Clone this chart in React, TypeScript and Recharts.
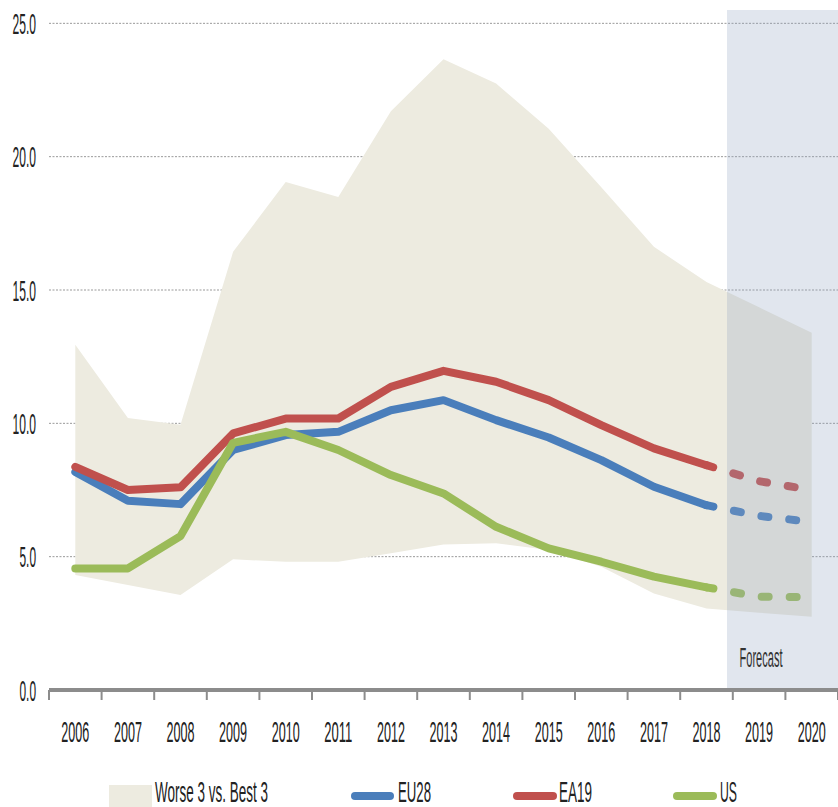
import React from 'react';
import {
  ComposedChart, Area, Line, XAxis, YAxis, CartesianGrid, ReferenceArea, Legend
} from 'recharts';

// values
const years = [2006, 2007, 2008, 2009, 2010, 2011, 2012, 2013, 2014, 2015, 2016, 2017, 2018, 2019, 2020];
const worse3 = [12.95, 10.2, 9.95, 16.43, 19.05, 18.49, 21.7, 23.65, 22.74, 21.05, 18.85, 16.62, 15.3, 14.35, 13.4];
const best3 = [4.31, 3.94, 3.56, 4.9, 4.81, 4.81, 5.13, 5.46, 5.5, 5.25, 4.62, 3.62, 3.06, 2.9, 2.75];
const eu28 = [8.18, 7.1, 6.97, 9.0, 9.56, 9.68, 10.49, 10.87, 10.12, 9.47, 8.62, 7.62, 6.93, 6.53, 6.3];
const ea19 = [8.37, 7.5, 7.6, 9.62, 10.18, 10.18, 11.37, 11.97, 11.56, 10.87, 9.93, 9.06, 8.43, 7.83, 7.5];
const us = [4.56, 4.56, 5.77, 9.27, 9.68, 9.0, 8.06, 7.37, 6.12, 5.31, 4.81, 4.25, 3.85, 3.5, 3.48];
const yTicks = [0, 5, 10, 15, 20, 25];
const gridValues = [5, 10, 15, 20, 25];
const LAST_ACTUAL = 2018;

const BAND = '#EDEBE0';
const BLUE = '#4A7EBB';
const RED = '#C0504D';
const GREEN = '#9BBB59';
const AXIS = '#8C8C8C';

const W = 838;
const H = 807;
const Y_AXIS_W = 49;
const HALF_BAND = (W - Y_AXIS_W) / years.length / 2;
const SQUEEZE = 0.47;

const data = years.map((year, i) => {
  const actual = year <= LAST_ACTUAL;
  const fc = year >= LAST_ACTUAL;
  return {
    year,
    band: [best3[i], worse3[i]],
    eu28: actual ? eu28[i] : null,
    ea19: actual ? ea19[i] : null,
    us: actual ? us[i] : null,
    eu28f: fc ? eu28[i] : null,
    ea19f: fc ? ea19[i] : null,
    usf: fc ? us[i] : null,
  };
});

// narrow text: a normal font squeezed horizontally to the width measured in the picture
const CText = ({ x, y, w, text, anchor = 'start', size = 29, fill = '#222' }: any) => {
  const x0 = anchor === 'middle' ? x - w / 2 : anchor === 'end' ? x - w : x;
  return (
    <text x={0} y={0} transform={`translate(${x0},${y}) scale(${SQUEEZE},1)`}
      fontSize={size} fill={fill}
      fontFamily="'Liberation Sans', Arial, sans-serif"
      textLength={w / SQUEEZE} lengthAdjust="spacingAndGlyphs">
      {text}
    </text>
  );
};

const XTick = (props: any) => {
  const { x, y, payload } = props;
  const isLast = payload.value === years[years.length - 1];
  return (
    <g>
      <line x1={x - HALF_BAND} x2={x - HALF_BAND} y1={y} y2={y + 10} stroke={AXIS} strokeWidth={2} />
      {isLast && <line x1={x + HALF_BAND} x2={x + HALF_BAND} y1={y} y2={y + 10} stroke={AXIS} strokeWidth={2} />}
      <CText x={x} y={y + 52} w={28} text={String(payload.value)} anchor="middle" />
    </g>
  );
};

const YTick = (props: any) => {
  const { y, payload } = props;
  const label = Number(payload.value).toFixed(1);
  const digits = label.length - 1;
  return <CText x={36} y={y + 10.5} w={digits * 7 + 2.5} text={label} anchor="end" />;
};

const ForecastLabel = (props: any) => {
  const { viewBox } = props;
  return <CText x={viewBox.x + 34} y={667} w={43} text="Forecast" anchor="middle" size={28} fill="#333" />;
};

const LegendContent = () => (
  <svg width={W} height={32} style={{ display: 'block' }}>
    <rect x={109} y={10} width={43} height={22} fill={BAND} />
    <CText x={155} y={27} w={113} text="Worse 3 vs. Best 3" />
    <line x1={355} x2={390} y1={21} y2={21} stroke={BLUE} strokeWidth={8} strokeLinecap="round" />
    <CText x={398} y={27} w={33} text="EU28" />
    <line x1={517} x2={553} y1={21} y2={21} stroke={RED} strokeWidth={8} strokeLinecap="round" />
    <CText x={559} y={27} w={33} text="EA19" />
    <line x1={677} x2={713} y1={21} y2={21} stroke={GREEN} strokeWidth={8} strokeLinecap="round" />
    <CText x={720} y={27} w={17} text="US" />
  </svg>
);

const lineProps = {
  type: 'linear' as const,
  strokeWidth: 8,
  strokeLinecap: 'round' as const,
  strokeLinejoin: 'round' as const,
  dot: false,
  activeDot: false,
  isAnimationActive: false,
  connectNulls: false,
};

export default function App() {
  return (
    <div style={{ position: 'absolute', left: 0, top: 0, background: '#fff' }}>
      <ComposedChart width={W} height={H} data={data} margin={{ top: 10, right: 0, left: 0, bottom: 0 }}>
        <CartesianGrid vertical={false} stroke="#999" strokeDasharray="2 1.5" horizontalValues={gridValues} />
        <XAxis
          dataKey="year" type="number" domain={[2005.5, 2020.5]} ticks={years} interval={0}
          height={85} tickSize={0} tickMargin={0} tickLine={false}
          axisLine={{ stroke: AXIS, strokeWidth: 4 }} tick={<XTick />}
        />
        <YAxis
          type="number" domain={[0, 25.5]} ticks={yTicks} width={Y_AXIS_W}
          axisLine={false} tickLine={false} tick={<YTick />}
        />
        <Area dataKey="band" stroke="none" fill={BAND} fillOpacity={1} isAnimationActive={false} activeDot={false} dot={false} />
        <Line dataKey="eu28" stroke={BLUE} {...lineProps} />
        <Line dataKey="ea19" stroke={RED} {...lineProps} />
        <Line dataKey="us" stroke={GREEN} {...lineProps} />
        <Line dataKey="eu28f" stroke={BLUE} strokeDasharray="7 21" {...lineProps} />
        <Line dataKey="ea19f" stroke={RED} strokeDasharray="7 21" {...lineProps} />
        <Line dataKey="usf" stroke={GREEN} strokeDasharray="7 21" {...lineProps} />
        <ReferenceArea
          x1={2018.39} x2={2020.5} y1={0} y2={25.5}
          fill="#94A6C2" fillOpacity={0.28} stroke="none"
          label={<ForecastLabel />}
          zIndex={450}
        />
        <Legend verticalAlign="bottom" height={32} content={<LegendContent />}
          wrapperStyle={{ left: 0, width: W, height: 32 }} />
      </ComposedChart>
    </div>
  );
}
